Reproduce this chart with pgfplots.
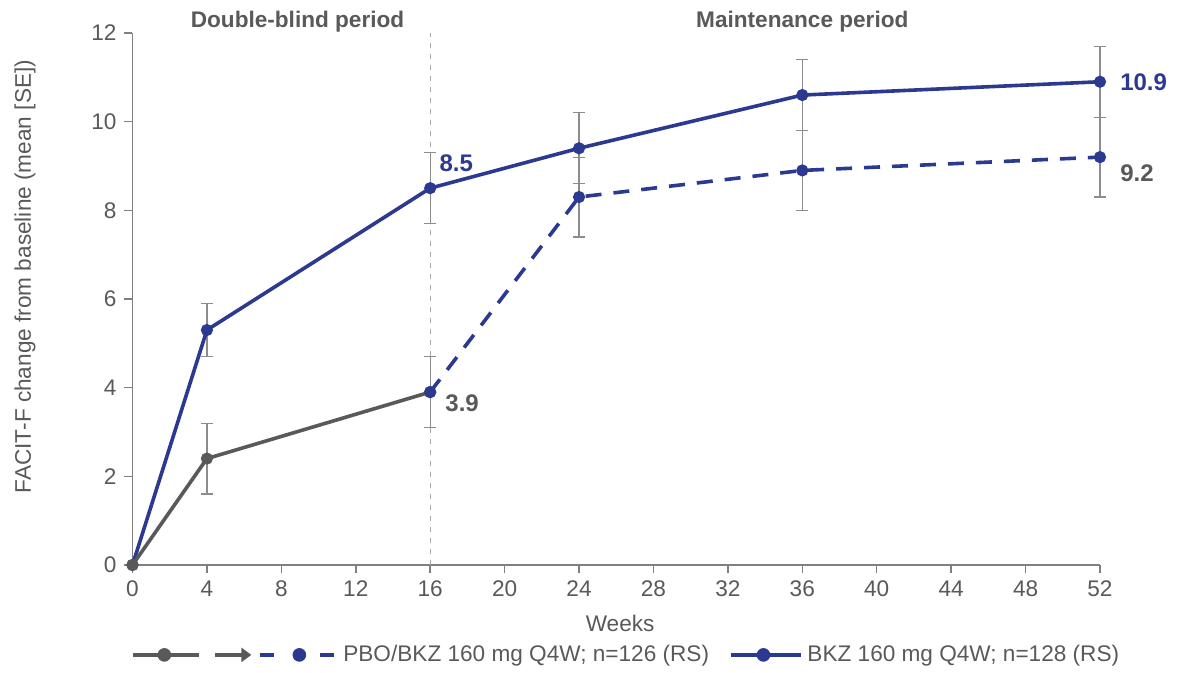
\documentclass[border=0pt]{standalone}
\usepackage{fontspec}
\setmainfont{Liberation Sans}
\usepackage{pgfplots}
\usepackage{pgfplotstable}
\pgfplotsset{compat=1.18}
\usetikzlibrary{arrows.meta}
\definecolor{bkz}{RGB}{43,57,144}
\definecolor{pbo}{RGB}{89,89,89}
\definecolor{txt}{RGB}{89,89,89}
\definecolor{axc}{RGB}{128,128,128}
\definecolor{errc}{RGB}{140,140,140}
\definecolor{vline}{RGB}{170,170,170}

\pgfplotstableread{
x y e
0 0 0
4 5.3 0.6
16 8.5 0.8
24 9.4 0.8
36 10.6 0.8
52 10.9 0.8
}\bkztab
\pgfplotstableread{
x y e
0 0 0
4 2.4 0.8
16 3.9 0.8
}\pbotab
\pgfplotstableread{
x y e
16 3.9 0
24 8.3 0.9
36 8.9 0.9
52 9.2 0.9
}\switchtab

\begin{document}
\fontsize{11.3}{13.5}\selectfont
\begin{tikzpicture}
\useasboundingbox (-66.25pt,-54pt) rectangle (523.75pt,282.5pt);
\begin{axis}[
  at={(0,0)}, anchor=south west,
  scale only axis, width=483.75pt, height=266pt,
  xmin=0, xmax=52, ymin=0, ymax=12,
  axis lines=left,
  axis line style={-, draw=axc, line width=0.75pt},
  xtick={0,4,...,52}, ytick={0,2,...,12},
  tick align=outside, major tick length=4pt,
  tick style={draw=axc, line width=0.75pt},
  ticklabel style={text=txt},
  /pgf/number format/assume math mode=true,
  xlabel={Weeks}, ylabel={FACIT-F change from baseline (mean [SE])},
  every axis x label/.style={at={(axis description cs:0.504,-0.109)}, anchor=center, text=txt},
  every axis y label/.style={at={(axis description cs:-0.1111,0.542)}, anchor=center, rotate=90, text=txt},
  clip=false,
  legend columns=2,
  legend style={at={(axis description cs:-0.0016,-0.169)}, anchor=west, draw=none, fill=none,
    inner sep=0pt, outer sep=0pt, column sep=0pt,
    nodes={inner sep=0pt, text=txt},
    /tikz/every even column/.append style={column sep=10pt}},
  legend cell align=left,
]
% reference line at week 16
\addplot[vline, line width=0.6pt, dash pattern=on 2.5pt off 3pt, forget plot] coordinates {(16,0) (16,12)};

% error bars
\pgfplotsset{myerr/.style={draw=none, forget plot, mark=none,
  error bars/.cd, y dir=both, y explicit,
  error bar style={draw=errc, line width=0.6pt, solid},
  error mark options={rotate=90, draw=errc, mark size=3pt, line width=0.6pt}}}
\addplot[myerr] table[x=x, y=y, y error=e] {\bkztab};
\addplot[myerr] table[x=x, y=y, y error=e] {\pbotab};
\addplot[myerr] table[x=x, y=y, y error=e] {\switchtab};

% series
\addplot[bkz, line width=1.8pt, mark=*, mark size=2.1pt, mark options={solid, fill=bkz, draw=bkz}, forget plot] table[x=x, y=y] {\bkztab};
\addplot[pbo, line width=1.8pt, mark=*, mark size=2.1pt, mark options={solid, fill=pbo, draw=pbo}, forget plot] table[x=x, y=y] {\pbotab};
\addplot[bkz, line width=1.8pt, dash pattern=on 8pt off 6pt, mark=*, mark size=2.1pt, mark options={solid, fill=bkz, draw=bkz}, forget plot] table[x=x, y=y] {\switchtab};

% period titles
\node[text=txt, font=\bfseries, anchor=center] at (axis cs:8.87,12.26) {Double-blind period};
\node[text=txt, font=\bfseries, anchor=center] at (axis cs:36.0,12.26) {Maintenance period};

% value labels
\node[text=bkz, font=\fontsize{12}{14}\selectfont\bfseries, anchor=west, inner sep=0pt] at (axis cs:16.48,9.07) {8.5};
\node[text=pbo, font=\fontsize{12}{14}\selectfont\bfseries, anchor=west, inner sep=0pt] at (axis cs:16.8,3.65) {3.9};
\node[text=bkz, font=\fontsize{12}{14}\selectfont\bfseries, anchor=west, inner sep=0pt] at (axis cs:53.07,10.9) {10.9};
\node[text=pbo, font=\fontsize{12}{14}\selectfont\bfseries, anchor=west, inner sep=0pt] at (axis cs:53.07,8.84) {9.2};

% legend
\addlegendimage{legend image code/.code={
  \draw[pbo, solid, line width=2.4pt] (0pt,0pt) -- (33pt,0pt);
  \fill[pbo] (15.5pt,0pt) circle (3.2pt);
  \draw[pbo, solid, line width=2.4pt, -{Triangle[length=5pt,width=7pt]}] (41pt,0pt) -- (59pt,0pt);
  \draw[bkz, solid, line width=2.4pt] (63.5pt,0pt) -- (70.5pt,0pt);
  \fill[bkz] (83pt,0pt) circle (3.2pt);
  \draw[bkz, solid, line width=2.4pt] (93.5pt,0pt) -- (100.5pt,0pt);
  \path[draw=none, fill=none] (0pt,-3.2pt) rectangle (105pt,3.2pt);
}}
\addlegendentry{PBO/BKZ 160 mg Q4W; n=126 (RS)}
\addlegendimage{legend image code/.code={
  \draw[bkz, solid, line width=2.4pt] (0pt,0pt) -- (35pt,0pt);
  \fill[bkz] (16pt,0pt) circle (3.2pt);
  \path[draw=none, fill=none] (0pt,-3.2pt) rectangle (38pt,3.2pt);
}}
\addlegendentry{BKZ 160 mg Q4W; n=128 (RS)}
\end{axis}
\end{tikzpicture}
\end{document}
